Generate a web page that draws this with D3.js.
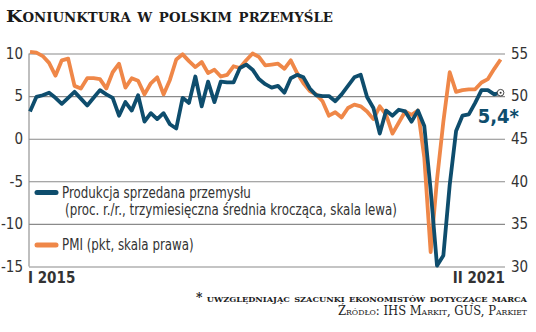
<!DOCTYPE html>
<html>
<head>
<meta charset="utf-8">
<script src="https://cdn.jsdelivr.net/npm/d3@7"></script>
<style>
  html, body { margin: 0; padding: 0; background: #ffffff; }
  svg { display: block; }
</style>
</head>
<body>
<svg id="chart" width="536" height="332"></svg>
<script>
// Monthly periods, January 2015 – March 2021 (Roman month numerals)
const romans = ["I","II","III","IV","V","VI","VII","VIII","IX","X","XI","XII"];
const periods = [];
for (let yr = 2015; yr <= 2021; yr++) {
  for (let m = 0; m < 12; m++) {
    if (yr === 2021 && m > 2) break;
    periods.push(romans[m] + " " + yr);
  }
}

// Industrial production sold, % y/y, 3-month moving average (left scale)
const production = [
  3.2, 4.9, 5.1, 5.4, 4.8, 4.1, 4.8, 5.5, 4.7, 3.9,
  4.8, 5.7, 5.2, 4.8, 2.7, 4.3, 3.3, 5.1, 2.0, 3.0,
  2.3, 3.0, 1.7, 1.2, 4.8, 4.2, 7.3, 3.8, 6.7, 4.3,
  6.7, 6.6, 6.6, 8.3, 8.7, 8.1, 7.0, 6.4, 6.0, 6.2,
  5.4, 7.1, 7.5, 7.2, 5.9, 5.1, 5.0, 5.0, 4.4, 5.2,
  6.2, 7.2, 7.5, 4.9, 3.6, 0.6, 3.3, 2.7, 3.4, 3.2,
  2.0, 3.3, 1.5, -6.0, -14.9, -13.7, -5.4, 0.9, 2.7, 2.85,
  4.2, 5.7, 5.7, 5.2, 5.4
];

// Manufacturing PMI, points (right scale)
const pmi = [
  55.2, 55.1, 54.7, 53.9, 52.4, 54.2, 54.4, 51.2, 50.9, 52.1,
  52.1, 52.0, 50.9, 52.8, 53.8, 51.0, 52.1, 51.8, 50.2, 51.5,
  52.2, 50.2, 51.9, 54.3, 54.9, 54.1, 53.4, 54.0, 52.7, 53.1,
  52.3, 52.5, 53.5, 53.3, 54.2, 55.0, 54.6, 53.6, 53.7, 53.8,
  53.2, 54.2, 52.7, 51.5, 50.6, 50.2, 49.4, 47.7, 48.1, 47.5,
  48.6, 49.0, 48.8, 48.2, 47.3, 48.8, 47.8, 45.6, 46.9, 48.2,
  47.8, 48.3, 42.8, 31.7, 40.2, 47.0, 52.8, 50.5, 50.7, 50.8,
  50.8, 51.6, 52.0, 53.2, 54.3
];

const leftTicks = [10, 5, 0, -5, -10, -15];
const rightTicks = [55, 50, 45, 40, 35, 30];
const startLabel = "I 2015";
const endLabel = "II 2021";
const lastValueLabel = "5,4*";

const title = "Koniunktura w polskim przemyśle";
const legendProduction = ["Produkcja sprzedana przemysłu",
                          "(proc. r./r., trzymiesięczna średnia krocząca, skala lewa)"];
const legendPmi = "PMI (pkt, skala prawa)";
const footnote = "* uwzględniając szacunki ekonomistów dotyczące marca";
const source = "Źródło: IHS Markit, GUS, Parkiet";

// ---- layout & style ----
const BLUE = "#0e4d6d";
const ORANGE = "#ef8748";
const GRID = "#8a8a8a";
const TEXT = "#333333";
const SANS = "'Liberation Sans Narrow','DejaVu Sans Condensed','Roboto',sans-serif";
const SERIF = "'DejaVu Serif','Liberation Serif',serif";

const plot = { left: 29, right: 505, top: 53.5, bottom: 266.5 };

const svg = d3.select("#chart");

const x = d3.scalePoint().domain(periods).range([30, 500.6]);
const yL = d3.scaleLinear().domain([-15, 10]).range([plot.bottom, plot.top]);
const yR = d3.scaleLinear().domain([30, 55]).range([plot.bottom, plot.top]);

// stretch/compress a text node to a target width
function fitWidth(sel, width) {
  sel.attr("textLength", width).attr("lengthAdjust", "spacingAndGlyphs");
}

// ---- title ----
const titleText = svg.append("text")
  .attr("x", 6).attr("y", 22)
  .attr("font-family", SERIF)
  .attr("font-weight", "bold")
  .attr("font-size", 17)
  .style("font-variant", "small-caps")
  .attr("fill", "#1a1a1a")
  .text(title);
fitWidth(titleText, 327);

// ---- gridlines ----
const grid = svg.append("g")
  .attr("transform", `translate(${plot.left},0)`)
  .call(d3.axisRight(yL).tickValues(leftTicks).tickSize(plot.right - plot.left).tickFormat(""));
grid.select(".domain").remove();
grid.selectAll("line").attr("stroke", GRID).attr("stroke-width", 1.1);

svg.append("line")
  .attr("x1", plot.left).attr("x2", plot.left)
  .attr("y1", plot.top).attr("y2", plot.bottom)
  .attr("stroke", GRID).attr("stroke-width", 1.1);

// ---- axis labels ----
const leftAxis = svg.append("g")
  .attr("transform", "translate(23,0)")
  .call(d3.axisLeft(yL).tickValues(leftTicks).tickSize(0).tickPadding(0).tickFormat(d => String(d)));
leftAxis.select(".domain").remove();
leftAxis.selectAll("text")
  .attr("font-family", SANS).attr("font-size", 15).attr("fill", TEXT);

const rightAxis = svg.append("g")
  .attr("transform", "translate(511,0)")
  .call(d3.axisRight(yR).tickValues(rightTicks).tickSize(0).tickPadding(0).tickFormat(d => String(d)));
rightAxis.select(".domain").remove();
rightAxis.selectAll("text")
  .attr("font-family", SANS).attr("font-size", 15).attr("fill", TEXT);

svg.append("text")
  .attr("x", x(periods[0]) - 2).attr("y", 283)
  .attr("font-family", SANS).attr("font-size", 15).attr("font-weight", "bold")
  .attr("fill", TEXT)
  .text(startLabel);
svg.append("text")
  .attr("x", plot.right).attr("y", 283)
  .attr("text-anchor", "end")
  .attr("font-family", SANS).attr("font-size", 15).attr("font-weight", "bold")
  .attr("fill", TEXT)
  .text(endLabel);

// ---- series ----
const pmiLine = d3.line().x((d, i) => x(periods[i])).y(d => yR(d));
const prodLine = d3.line().x((d, i) => x(periods[i])).y(d => yL(d));

svg.append("path")
  .datum(pmi)
  .attr("d", pmiLine)
  .attr("fill", "none")
  .attr("stroke", ORANGE)
  .attr("stroke-width", 3.8)
  .attr("stroke-linejoin", "round");

svg.append("path")
  .datum(production)
  .attr("d", prodLine)
  .attr("fill", "none")
  .attr("stroke", BLUE)
  .attr("stroke-width", 3.8)
  .attr("stroke-linejoin", "round");

// last production value marker and label
const lastIdx = production.length - 1;
const lx = x(periods[lastIdx]), ly = yL(production[lastIdx]);
svg.append("circle")
  .attr("cx", lx).attr("cy", ly).attr("r", 3.3)
  .attr("fill", "#ffffff").attr("stroke", "#333").attr("stroke-width", 0.9);
svg.append("circle")
  .attr("cx", lx).attr("cy", ly).attr("r", 1)
  .attr("fill", "#333");

svg.append("text")
  .attr("x", 519).attr("y", 123)
  .attr("text-anchor", "end")
  .attr("font-family", SANS).attr("font-size", 20).attr("font-weight", "bold")
  .attr("fill", BLUE)
  .text(lastValueLabel);

// ---- legend ----
const legend = svg.append("g");
legend.append("line")
  .attr("x1", 37).attr("x2", 56).attr("y1", 192.5).attr("y2", 192.5)
  .attr("stroke", BLUE).attr("stroke-width", 5).attr("stroke-linecap", "round");
legend.append("line")
  .attr("x1", 37).attr("x2", 56).attr("y1", 245).attr("y2", 245)
  .attr("stroke", ORANGE).attr("stroke-width", 5).attr("stroke-linecap", "round");

const legendRows = [
  { text: legendProduction[0], x: 62, y: 198 },
  { text: legendProduction[1], x: 65, y: 214.5 },
  { text: legendPmi, x: 62, y: 250 }
];
const legendTexts = legend.selectAll("text.row")
  .data(legendRows)
  .join("text")
  .attr("class", "row")
  .attr("x", d => d.x).attr("y", d => d.y)
  .attr("font-family", SANS).attr("font-size", 15)
  .attr("fill", TEXT)
  .text(d => d.text);
// common horizontal scale so the long row spans 65 → 397
const longW = legendTexts.nodes()[1].getComputedTextLength();
const k = 332 / longW;
legendTexts.each(function () {
  const w = this.getComputedTextLength();
  fitWidth(d3.select(this), w * k);
});

// ---- footnote & source ----
const fn = svg.append("text")
  .attr("x", 527).attr("y", 302)
  .attr("text-anchor", "end")
  .attr("font-family", SERIF).attr("font-size", 12).attr("font-weight", 600)
  .style("font-variant", "small-caps")
  .attr("fill", "#222")
  .text(footnote);
fitWidth(fn, 331);

const src = svg.append("text")
  .attr("x", 527).attr("y", 315)
  .attr("text-anchor", "end")
  .attr("font-family", SERIF).attr("font-size", 12)
  .style("font-variant", "small-caps")
  .attr("fill", "#222")
  .text(source);
fitWidth(src, 189);
</script>
</body>
</html>
